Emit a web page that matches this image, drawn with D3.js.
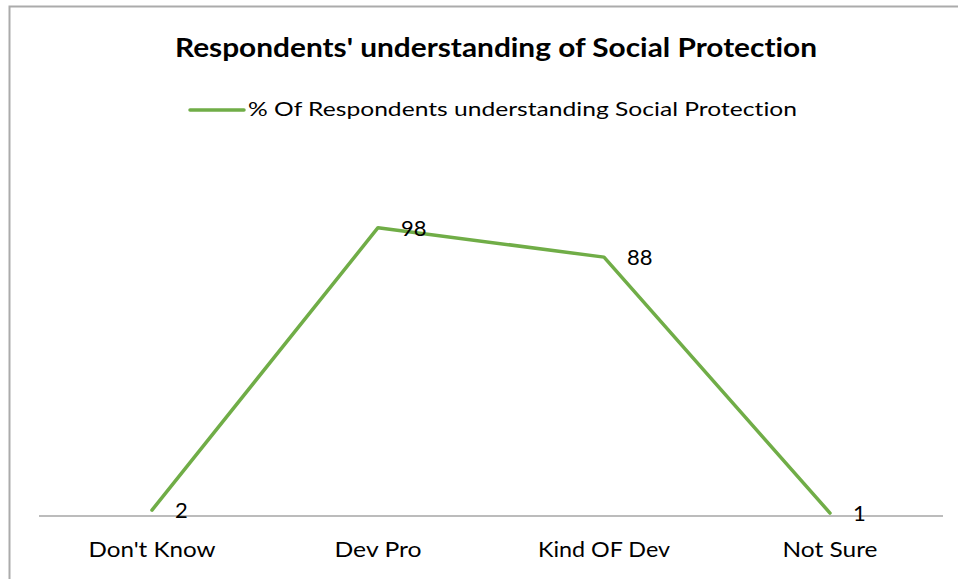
<!DOCTYPE html>
<html>
<head>
<meta charset="utf-8">
<script src="https://cdn.jsdelivr.net/npm/d3@7"></script>
<style>
  html, body { margin: 0; padding: 0; background: #fff; }
  svg { display: block; }
  text { font-family: Lato, "Open Sans", "Liberation Sans", sans-serif; fill: #000; font-variant-ligatures: none; font-feature-settings: "liga" 0, "clig" 0; }
</style>
</head>
<body>
<svg id="chart" width="958" height="579"></svg>
<script>
const categories = ["Don't Know", "Dev Pro", "Kind OF Dev", "Not Sure"];
const values = [2, 98, 88, 1];
const titleText = "Respondents' understanding of Social Protection";
const seriesName = "% Of Respondents understanding Social Protection";

const W = 958, H = 579;
const svg = d3.select("#chart");
const lineColor = "#70ad47";

// outer chart border (extends past the picture on right/bottom)
svg.append("rect")
  .attr("x", 9.5).attr("y", 6.5)
  .attr("width", 1000).attr("height", 1000)
  .attr("fill", "none").attr("stroke", "#ababab").attr("stroke-width", 2);

const plotLeft = 39, plotRight = 943, axisY = 516, plotTop = 163;
const x = d3.scaleBand().domain(categories).range([plotLeft, plotRight]).padding(0);
const y = d3.scaleLinear().domain([0, 120]).range([axisY, plotTop]);

function fit(sel, w) {
  const n = sel.node();
  const cur = n.getComputedTextLength();
  if (Math.abs(cur - w) > 1) sel.attr("textLength", w).attr("lengthAdjust", "spacingAndGlyphs");
}

// title
const t = svg.append("text")
  .attr("x", 496).attr("y", 57)
  .attr("text-anchor", "middle")
  .attr("font-size", 26.5).attr("font-weight", "bold")
  .text(titleText);
fit(t, 642);

// legend
svg.append("line")
  .attr("x1", 190).attr("x2", 244).attr("y1", 110).attr("y2", 110)
  .attr("stroke", lineColor).attr("stroke-width", 3.5).attr("stroke-linecap", "round");
const lt = svg.append("text")
  .attr("x", 248).attr("y", 116)
  .attr("font-size", 20)
  .text(seriesName);
fit(lt, 549);

// x axis
const xAxis = d3.axisBottom(x).tickSize(0).tickPadding(0);
const gx = svg.append("g").attr("transform", `translate(0,${axisY})`).call(xAxis);
gx.select(".domain").attr("stroke", "#a6a6a6").attr("stroke-width", 1.5)
  .attr("d", `M${plotLeft},0H${plotRight}`);
gx.selectAll(".tick text")
  .attr("font-size", 21)
  .attr("font-family", "Lato, 'Open Sans', 'Liberation Sans', sans-serif")
  .attr("fill", "#000")
  .attr("y", 41).attr("dy", 0);
const labelWidths = { "Don't Know": 127, "Dev Pro": 87, "Kind OF Dev": 132, "Not Sure": 95 };
gx.selectAll(".tick text").each(function(d) { fit(d3.select(this), labelWidths[d]); });

// line
const cx = d => x(d) + x.bandwidth() / 2;
const data = categories.map((c, i) => ({ c, v: values[i] }));
svg.append("path")
  .datum(data)
  .attr("fill", "none")
  .attr("stroke", lineColor)
  .attr("stroke-width", 3.5)
  .attr("stroke-linejoin", "round")
  .attr("stroke-linecap", "round")
  .attr("d", d3.line().x(d => cx(d.c)).y(d => y(d.v)));

// data labels
svg.selectAll("text.dl")
  .data(data)
  .enter().append("text")
  .attr("class", "dl")
  .attr("x", d => cx(d.c) + 23)
  .attr("y", d => y(d.v) + 8)
  .attr("font-size", 22)
  .text(d => d.v);
</script>
</body>
</html>
